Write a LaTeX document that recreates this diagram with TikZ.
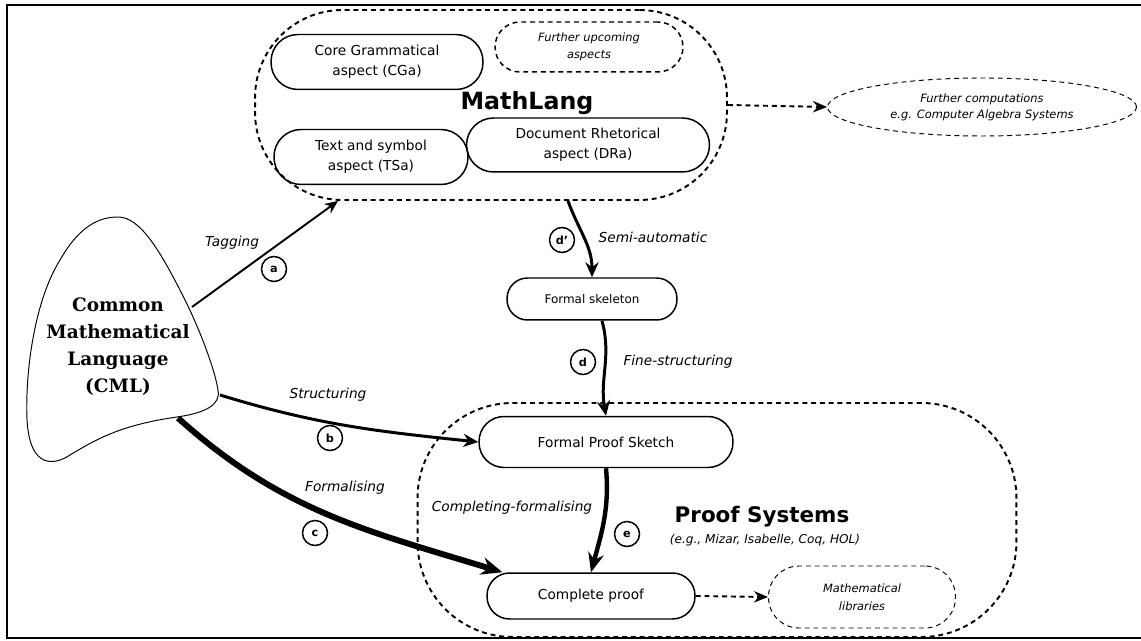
\documentclass[tikz,border=0pt]{standalone}
\usepackage{fontspec}
\setmainfont{DejaVu Sans}
\newfontfamily\cmlfont{DejaVu Serif}
\usetikzlibrary{arrows.meta,shapes.geometric}

\tikzset{
  aspect/.style={draw, line width=0.85pt, rounded corners=0.54cm, inner sep=0pt, align=center,
    font=\fontsize{7.8}{11.2}\selectfont},
  group/.style={draw, line width=1.1pt, dash pattern=on 2.8pt off 2.2pt, inner sep=0pt},
  outside/.style={draw, line width=0.55pt, dash pattern=on 2.8pt off 2.2pt, inner sep=0pt, align=center,
    font=\itshape\fontsize{6.5}{9.2}\selectfont},
  tag/.style={draw, circle, line width=0.85pt, inner sep=0pt, minimum size=0.5cm,
    font=\bfseries\fontsize{6.4}{7}\selectfont},
  lbl/.style={font=\itshape\fontsize{7.8}{9}\selectfont},
  flow/.style={line width=1.7pt, -{Stealth[length=8.5pt,width=7.5pt]}},
  further/.style={line width=1.1pt, dash pattern=on 2.8pt off 2.2pt, -{Stealth[length=8pt,width=6.5pt]}},
}

\begin{document}
\begin{tikzpicture}[x=0.02cm, y=-0.02cm]
  \useasboundingbox (0,0) rectangle (1141,641);
  \draw[line width=1.1pt] (1160,5) -- (7,5) -- (7,638) -- (1160,638);

  % common mathematical language
  \draw[line width=0.55pt] (118,217) .. controls (140,217) and (160,250) .. (185,300)
    .. controls (200,330) and (215,370) .. (218,390)
    .. controls (221,405) and (205,413) .. (177,417)
    .. controls (120,425) and (95,440) .. (70,455)
    .. controls (55,465) and (30,470) .. (27,420)
    .. controls (25,370) and (35,300) .. (60,260)
    .. controls (80,225) and (100,217) .. (118,217) -- cycle;
  \node[align=center, font=\cmlfont\bfseries\fontsize{10.5}{15.4}\selectfont] (cml) at (118,347)
    {Common\\Mathematical\\Language\\(CML)};
  \coordinate (cmltag) at (192,307);
  \coordinate (cmlstr) at (220,395);
  \coordinate (cmlfor) at (178,418);

  % MathLang
  \node[group, rounded corners=1.75cm, minimum width=9.44cm, minimum height=3.8cm] (mathlang) at (491,105) {};
  \node[font=\bfseries\fontsize{13.5}{15}\selectfont] (mltitle) at (527,103) {MathLang};
  \node[aspect, minimum width=4.24cm, minimum height=1.1cm] (cga) at (377,62) {Core Grammatical\\aspect (CGa)};
  \node[aspect, minimum width=3.88cm, minimum height=1.1cm] (tsa) at (371,157) {Text and symbol\\aspect (TSa)};
  \node[aspect, minimum width=4.86cm, minimum height=1.08cm] (dra) at (588,145) {Document Rhetorical\\aspect (DRa)};
  \node[outside, line width=0.85pt, rounded corners=0.5cm, minimum width=3.76cm, minimum height=1cm,
    font=\itshape\fontsize{6.5}{9.7}\selectfont] (upcoming) at (589,47) {Further upcoming\\aspects};
  \node[outside, ellipse, minimum width=6.18cm, minimum height=1.16cm] (cas) at (982,107)
    {Further computations\\e.g. Computer Algebra Systems};

  % proof systems
  \node[group, rounded corners=1.9cm, minimum width=11.98cm, minimum height=4.68cm] (proofsys) at (717,520) {};
  \node[font=\bfseries\fontsize{12.2}{14}\selectfont] (pstitle) at (762,517) {Proof Systems};
  \node[font=\itshape\fontsize{6.9}{8}\selectfont] (psnames) at (765,540) {(e.g., Mizar, Isabelle, Coq, HOL)};
  \node[aspect, rounded corners=0.41cm, minimum width=3.4cm, minimum height=0.84cm, font=\fontsize{6.8}{8}\selectfont] (skel) at (592,299) {Formal skeleton};
  \node[aspect, rounded corners=0.5cm, minimum width=5.08cm, minimum height=1.02cm] (sketch) at (606,442) {Formal Proof Sketch};
  \node[aspect, rounded corners=0.45cm, minimum width=4.16cm, minimum height=0.92cm] (complete) at (591,596) {Complete proof};
  \node[outside, rounded corners=0.61cm, minimum width=3.74cm, minimum height=1.24cm,
    font=\itshape\fontsize{6.5}{10.3}\selectfont] (libs) at (862,597) {Mathematical\\libraries};

  % connectors
  \draw[line width=1.1pt, -{Stealth[length=7.5pt,width=6.5pt]}] (cmltag) -- ([xshift=-3.06cm]mathlang.south);
  \draw[flow] (cmlstr) to[out=-17, in=174] (sketch.west);
  \draw[line width=3.4pt, -{Stealth[length=12pt,width=10pt]}] (cmlfor) to[out=-42, in=163] (complete.165);
  \draw[flow] ([xshift=1.54cm]mathlang.south) to[out=-70, in=90] (skel.north);
  \draw[flow] ([xshift=0.2cm]skel.south) to[out=-75, in=100] (sketch.north);
  \draw[line width=2.5pt, -{Stealth[length=11pt,width=9pt]}] (sketch.south) to[out=-85, in=75] (complete.north);
  \draw[further] (mathlang.east) -- (cas.west);
  \draw[further] (complete.east) -- (libs.west);

  % labels
  \node[lbl] (ltag) at (232,243) {Tagging};
  \node[tag] (ta) at (274,269) {a};
  \node[lbl] (lstr) at (328,395) {Structuring};
  \node[tag] (tb) at (330,438) {b};
  \node[lbl] (lfor) at (345,488) {Formalising};
  \node[tag] (tc) at (315,533) {c};
  \node[lbl] (lsemi) at (653,237) {Semi-automatic};
  \node[tag] (tdd) at (562,240) {d\char"27};
  \node[lbl] (lfine) at (678,362) {Fine-structuring};
  \node[tag] (td) at (583,362) {d};
  \node[lbl] (lcomp) at (512,508) {Completing-formalising};
  \node[tag] (te) at (627,534) {e};
\end{tikzpicture}
\end{document}
